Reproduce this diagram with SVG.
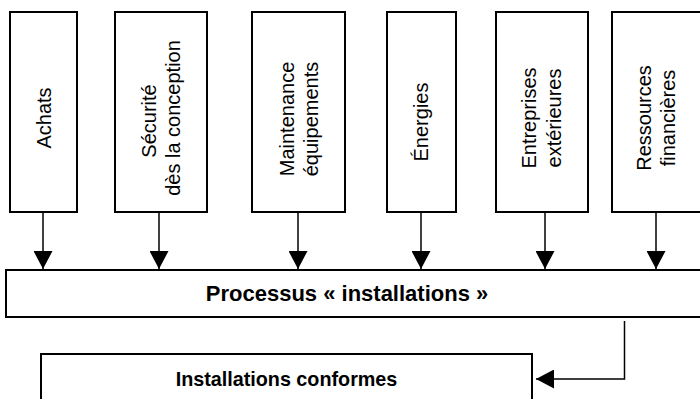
<svg xmlns="http://www.w3.org/2000/svg" width="700" height="399" viewBox="0 0 700 399">
<style>
  .box { fill: #ffffff; stroke: #000000; stroke-width: 2; }
  .lbl { font-family: "Liberation Sans", Arial, sans-serif; font-size: 20px; fill: #000000; text-anchor: middle; }
  .bold { font-weight: bold; }
  .conn { fill: none; stroke: #000000; stroke-width: 1.5; }
</style>
<defs>
  <marker id="arrow" markerUnits="userSpaceOnUse" markerWidth="19" markerHeight="19" refX="18" refY="9.5" orient="auto">
    <path d="M0,0 L18,9.5 L0,19 z" fill="#000000"/>
  </marker>
</defs>
<rect width="700" height="399" fill="#ffffff"/>

<g id="n-achats">
  <rect class="box" x="10" y="12" width="67" height="200"/>
  <text class="lbl" transform="translate(43.5,118) rotate(-90)"><tspan x="0" y="7">Achats</tspan></text>
</g>
<g id="n-securite">
  <rect class="box" x="115" y="12" width="92" height="200"/>
  <text class="lbl" transform="translate(161,118) rotate(-90)"><tspan x="-3" y="-5">Sécurité</tspan><tspan x="0" y="19">dès la conception</tspan></text>
</g>
<g id="n-maintenance">
  <rect class="box" x="252" y="12" width="93" height="200"/>
  <text class="lbl" transform="translate(298.5,119) rotate(-90)"><tspan x="0" y="-5">Maintenance</tspan><tspan x="0" y="19">équipements</tspan></text>
</g>
<g id="n-energies">
  <rect class="box" x="387" y="12" width="69" height="200"/>
  <text class="lbl" transform="translate(421.5,122) rotate(-90)"><tspan x="0" y="6">Énergies</tspan></text>
</g>
<g id="n-entreprises">
  <rect class="box" x="496" y="12" width="92" height="200"/>
  <text class="lbl" transform="translate(542,118) rotate(-90)"><tspan x="0" y="-6">Entreprises</tspan><tspan x="0" y="19">extérieures</tspan></text>
</g>
<g id="n-ressources">
  <rect class="box" x="612" y="12" width="100" height="200"/>
  <text class="lbl" transform="translate(656,118) rotate(-90)"><tspan x="0" y="-5">Ressources</tspan><tspan x="0" y="19">financières</tspan></text>
</g>
<g id="n-processus">
  <rect class="box" x="6" y="270" width="710" height="47"/>
  <text class="lbl bold" x="347" y="301" style="font-size:22px">Processus « installations »</text>
</g>
<g id="n-installations">
  <rect class="box" x="41" y="354" width="491" height="60"/>
  <text class="lbl bold" x="286.5" y="385.5" style="font-size:19.75px">Installations conformes</text>
</g>

<g id="connectors">
  <line class="conn" x1="43" y1="212" x2="43" y2="269" marker-end="url(#arrow)"/>
  <line class="conn" x1="159" y1="212" x2="159" y2="269" marker-end="url(#arrow)"/>
  <line class="conn" x1="298" y1="212" x2="298" y2="269" marker-end="url(#arrow)"/>
  <line class="conn" x1="421" y1="212" x2="421" y2="269" marker-end="url(#arrow)"/>
  <line class="conn" x1="545" y1="212" x2="545" y2="269" marker-end="url(#arrow)"/>
  <line class="conn" x1="656" y1="212" x2="656" y2="269" marker-end="url(#arrow)"/>
  <polyline class="conn" points="624.5,321 624.5,379 536,379" marker-end="url(#arrow)"/>
</g>
</svg>
